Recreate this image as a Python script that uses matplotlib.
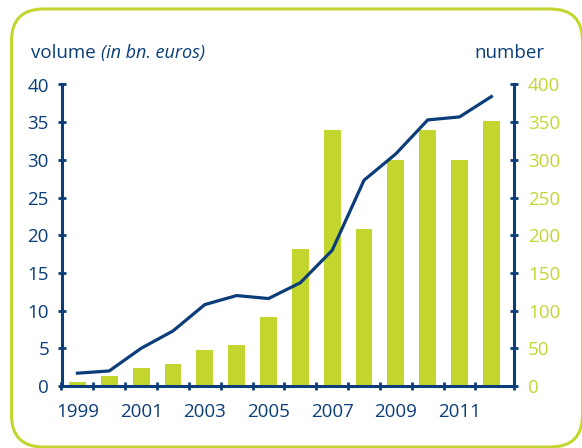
import numpy as np
import matplotlib
matplotlib.use('Agg')
import matplotlib.pyplot as plt
import matplotlib.patches as mpatches
from matplotlib.transforms import IdentityTransform

years = list(range(1999, 2013))
number = [5, 13, 24, 29, 48, 54, 92, 182, 340, 208, 300, 340, 300, 352]
volume = [1.7, 2.0, 5.0, 7.3, 10.8, 12.0, 11.6, 13.7, 18.0, 27.3, 30.8, 35.3, 35.7, 38.4]
year_labels = [str(y) for y in years if y % 2 == 1]

blue = '#0a3d79'
green = '#c3d62f'
W, H = 582, 448
fs = 13.5

plt.rcParams['font.family'] = ['Open Sans', 'DejaVu Sans']

fig = plt.figure(figsize=(W / 100, H / 100), dpi=100)
ax1 = fig.add_axes([61.5 / W, (H - 386) / H, (514 - 61.5) / W, (386 - 84.5) / H])
ax2 = ax1.twinx()

x = np.arange(len(years))
ax2.bar(x, number, width=0.53, color=green, zorder=2)
ax1.plot(x, volume, color=blue, lw=2.3, solid_joinstyle='miter', zorder=3)
ax1.set_zorder(ax2.get_zorder() + 1)
ax1.patch.set_visible(False)

right_end = 13.71
ax1.set_xlim(-0.5, right_end)
ax1.set_ylim(0, 40)
ax2.set_ylim(0, 400)
ax1.set_yticks(range(0, 41, 5))
ax2.set_yticks(range(0, 401, 50))

ax1.set_xticks(list(np.arange(-0.5, 13, 1.0)) + [right_end])
ax1.set_xticklabels([])
ax1.set_xticks(x[::2], minor=True)
ax1.set_xticklabels(year_labels, minor=True)

for ax in (ax1, ax2):
    for s in ax.spines.values():
        s.set_visible(False)
ax1.spines['left'].set_visible(True)
ax1.spines['bottom'].set_visible(True)
ax2.spines['right'].set_visible(True)
for s in (ax1.spines['left'], ax1.spines['bottom'], ax2.spines['right']):
    s.set_color(blue)
    s.set_linewidth(2.2)

ax1.tick_params(axis='both', which='major', direction='inout', length=6, width=2,
                color=blue, labelcolor=blue, labelsize=fs)
ax1.tick_params(axis='y', pad=6)
ax1.tick_params(axis='x', which='minor', length=0, pad=12, labelcolor=blue, labelsize=fs)
ax2.tick_params(axis='y', direction='inout', length=6, width=2, color=blue,
                labelcolor=green, labelsize=fs, pad=7)

t1 = fig.text(31 / W, (H - 58) / H, 'volume', color=blue, fontsize=fs, ha='left', va='baseline')
fig.canvas.draw()
end = t1.get_window_extent().x1
fig.text((end + 5) / W, (H - 58) / H, '(in bn. euros)', color=blue, fontsize=fs - 0.5,
         style='italic', ha='left', va='baseline')
fig.text(544 / W, (H - 58) / H, 'number', color=blue, fontsize=fs, ha='right', va='baseline')

frame = mpatches.FancyBboxPatch((11.5, 1), 571, 438, boxstyle='round,pad=0,rounding_size=32',
                                transform=IdentityTransform(), fill=False,
                                edgecolor=green, linewidth=2.2)
fig.patches.append(frame)

fig.savefig('out.png', dpi=100)
